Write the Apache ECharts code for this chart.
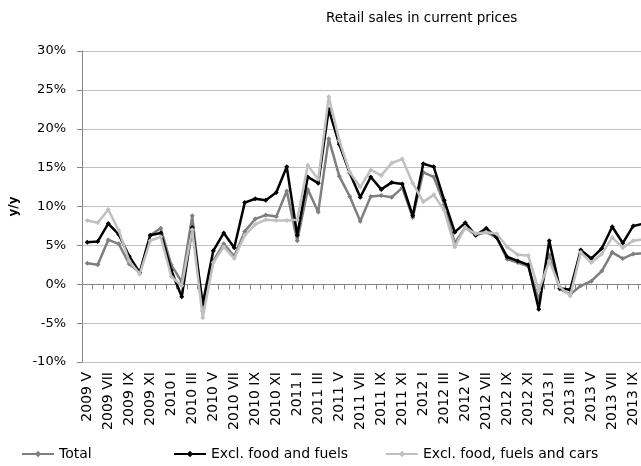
<!DOCTYPE html>
<html>
<head>
<meta charset="utf-8">
<script src="https://cdn.jsdelivr.net/npm/echarts@6/dist/echarts.min.js"></script>
<style>
  html, body { margin: 0; padding: 0; background: #fff; overflow: hidden; }
  /* the plot area runs slightly past the right edge of the window */
  #chart { width: 660px; height: 466px; }
</style>
</head>
<body>
<div id="chart"></div>
<script>
// Monthly periods, May 2009 – October 2013 (year + Roman month)
const months = [
  '2009 V','2009 VI','2009 VII','2009 VIII','2009 IX','2009 X','2009 XI','2009 XII',
  '2010 I','2010 II','2010 III','2010 IV','2010 V','2010 VI','2010 VII','2010 VIII','2010 IX','2010 X','2010 XI','2010 XII',
  '2011 I','2011 II','2011 III','2011 IV','2011 V','2011 VI','2011 VII','2011 VIII','2011 IX','2011 X','2011 XI','2011 XII',
  '2012 I','2012 II','2012 III','2012 IV','2012 V','2012 VI','2012 VII','2012 VIII','2012 IX','2012 X','2012 XI','2012 XII',
  '2013 I','2013 II','2013 III','2013 IV','2013 V','2013 VI','2013 VII','2013 VIII','2013 IX','2013 X'
];

// Year-on-year change, %
const total = [
  2.7, 2.5, 5.7, 5.2, 2.6, 1.5, 6.3, 7.2,
  2.5, 0.3, 8.8, -3.5, 3.0, 5.2, 3.6, 6.8, 8.4, 8.9, 8.7, 12.0,
  5.6, 12.2, 9.3, 18.7, 13.9, 11.3, 8.1, 11.3, 11.4, 11.2, 12.4, 8.6,
  14.4, 13.8, 10.3, 5.3, 7.3, 6.3, 6.7, 6.0, 3.2, 2.8, 2.3, -2.0,
  3.8, -0.6, -1.3, -0.2, 0.4, 1.7, 4.1, 3.3, 3.9, 4.0
];
const exclFoodFuels = [
  5.4, 5.5, 7.8, 6.4, 3.6, 1.5, 6.3, 6.6,
  1.8, -1.6, 7.3, -2.5, 4.3, 6.6, 4.7, 10.5, 11.0, 10.8, 11.8, 15.1,
  6.3, 13.8, 13.0, 22.5, 18.0, 14.3, 11.2, 13.8, 12.2, 13.1, 12.9, 8.8,
  15.5, 15.1, 10.8, 6.7, 7.9, 6.3, 7.2, 6.0, 3.5, 3.0, 2.5, -3.2,
  5.6, -0.5, -0.7, 4.4, 3.3, 4.6, 7.4, 5.3, 7.5, 7.8
];
const exclFoodFuelsCars = [
  8.2, 7.9, 9.6, 6.9, 3.0, 1.3, 5.6, 6.1,
  1.0, -0.2, 7.0, -4.3, 2.8, 4.8, 3.3, 6.3, 7.7, 8.3, 8.2, 8.2,
  8.3, 15.3, 13.5, 24.1, 18.5, 14.4, 12.5, 14.7, 14.0, 15.6, 16.1, 13.0,
  10.6, 11.5, 9.5, 4.8, 7.3, 6.5, 6.7, 6.5, 4.8, 3.8, 3.7, -0.8,
  3.0, -0.3, -1.5, 4.1, 2.8, 3.9, 6.0, 4.7, 5.6, 5.8
];

const seriesNames = ['Total', 'Excl. food and fuels', 'Excl. food, fuels and cars'];
const seriesColors = ['#7f7f7f', '#000000', '#c0c0c0'];
const seriesData = [total, exclFoodFuels, exclFoodFuelsCars];

const FONT = 'DejaVu Sans';
const chart = echarts.init(document.getElementById('chart'), null, { renderer: 'canvas' });

const legendLefts = [21, 173, 385];

chart.setOption({
  animation: false,
  backgroundColor: '#ffffff',
  title: {
    text: 'Retail sales in current prices',
    left: 326, top: 11, padding: 0,
    textStyle: { fontFamily: FONT, fontSize: 13.5, fontWeight: 'normal', color: '#000' }
  },
  legend: seriesNames.map((n, i) => ({
    data: [n],
    left: legendLefts[i], top: 447, padding: 0,
    itemWidth: 32, itemHeight: 8, itemGap: 0,
    textStyle: { fontFamily: FONT, fontSize: 14, color: '#000' }
  })),
  grid: { left: 77, top: 51, width: 572, height: 311, containLabel: false },
  xAxis: [
    {
      type: 'category', data: months, boundaryGap: true,
      axisLine: { show: true, onZero: true, lineStyle: { color: '#868686', width: 1 } },
      axisTick: { show: true, interval: 0, length: 5, lineStyle: { color: '#868686' } },
      axisLabel: { show: false },
      splitLine: { show: false }
    },
    {
      type: 'category', data: months, boundaryGap: true, position: 'bottom',
      axisLine: { show: false, onZero: false },
      axisTick: { show: false },
      axisLabel: {
        interval: 1, rotate: 90, margin: 10,
        fontFamily: FONT, fontSize: 14, color: '#000'
      },
      splitLine: { show: false }
    }
  ],
  yAxis: {
    type: 'value', min: -10, max: 30, interval: 5,
    name: 'y/y', nameLocation: 'middle', nameRotate: 90, nameGap: 62,
    nameTextStyle: { fontFamily: FONT, fontSize: 12, fontWeight: 'bold', color: '#000' },
    axisLine: { show: true, lineStyle: { color: '#868686' } },
    axisTick: { show: true, length: 5, lineStyle: { color: '#868686' } },
    axisLabel: {
      margin: 16, fontFamily: FONT, fontSize: 13, color: '#000',
      formatter: v => v + '%'
    },
    splitLine: { show: true, lineStyle: { color: '#c0c0c0', width: 1 } }
  },
  series: seriesNames.map((n, i) => ({
    name: n, type: 'line', xAxisIndex: 0,
    data: seriesData[i],
    symbol: 'diamond', symbolSize: 5,
    itemStyle: { color: seriesColors[i] },
    lineStyle: { color: seriesColors[i], width: 2.5 },
    z: 2 + i
  }))
});
</script>
</body>
</html>
